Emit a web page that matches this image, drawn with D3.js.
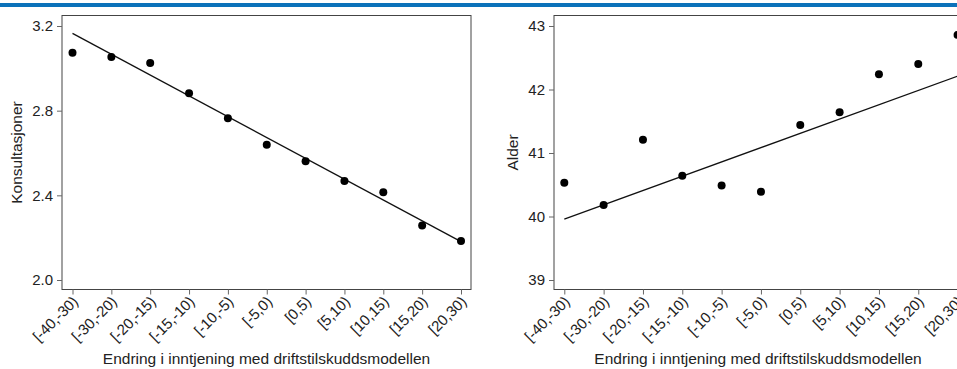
<!DOCTYPE html>
<html lang="no">
<head>
<meta charset="utf-8" />
<style>
body { margin: 0; background: #fff; }
svg { display: block; font-family: "Liberation Sans", Arial, sans-serif; }
.frame { fill: none; stroke: #444; stroke-width: 1; }
.axis path { display: none; }
.axis line { stroke: #666; }
.axis text { fill: #222; font-size: 15px; }
.fit { fill: none; stroke: #111; stroke-width: 1.3; }
.dot { fill: #000; }
.title { fill: #222; font-size: 15.5px; }
</style>
</head>
<body>
<script src="https://cdn.jsdelivr.net/npm/d3@7"></script>
<script>
var categories = ["[-40,-30)", "[-30,-20)", "[-20,-15)", "[-15,-10)", "[-10,-5)", "[-5,0)",
                  "[0,5)", "[5,10)", "[10,15)", "[15,20)", "[20,30)"];

// left panel: konsultasjoner
var konsValues = [3.074, 3.054, 3.025, 2.882, 2.764, 2.639, 2.561, 2.468, 2.414, 2.257, 2.184];
var konsFit = [3.165, 2.181];            // fitted line at first and last category
var konsTicks = [2.0, 2.4, 2.8, 3.2];

// right panel: alder
var alderValues = [40.53, 40.18, 41.21, 40.64, 40.49, 40.39, 41.44, 41.64, 42.24, 42.40, 42.86];
var alderFit = [39.96, 42.21];
var alderTicks = [39, 40, 41, 42, 43];

var width = 957, height = 369;
var xTitle = "Endring i inntjening med driftstilskuddsmodellen";

var svg = d3.select("body").append("svg")
    .attr("width", width)
    .attr("height", height);

svg.append("rect")
    .attr("x", 0).attr("y", 3)
    .attr("width", width).attr("height", 4)
    .attr("fill", "#0b72ba");

function panel(opts) {
    var g = svg.append("g");
    var left = opts.left, right = opts.right, top = 15.5, bottom = 289.5;

    var x = d3.scalePoint()
        .domain(categories)
        .range([left + opts.inset, left + opts.inset + opts.step * (categories.length - 1)]);

    var y = d3.scaleLinear()
        .domain(opts.domain)
        .range([280, 26]);

    g.append("rect")
        .attr("class", "frame")
        .attr("x", left).attr("y", top)
        .attr("width", right - left).attr("height", bottom - top);

    g.append("g")
        .attr("class", "axis")
        .attr("transform", "translate(" + left + ",0)")
        .call(d3.axisLeft(y).tickValues(opts.ticks).tickFormat(opts.fmt).tickSize(5).tickPadding(4));

    var xa = g.append("g")
        .attr("class", "axis")
        .attr("transform", "translate(0," + bottom + ")")
        .call(d3.axisBottom(x).tickSize(5).tickPadding(3));

    xa.selectAll("text")
        .attr("text-anchor", "end")
        .attr("dy", null)
        .attr("y", 0)
        .attr("transform", "translate(6,13) rotate(-45)");

    g.append("line")
        .attr("class", "fit")
        .attr("x1", x(categories[0]))
        .attr("y1", y(opts.fit[0]))
        .attr("x2", x(categories[categories.length - 1]))
        .attr("y2", y(opts.fit[1]));

    g.selectAll(".dot")
        .data(opts.values)
        .enter().append("circle")
        .attr("class", "dot")
        .attr("cx", function (d, i) { return x(categories[i]); })
        .attr("cy", function (d) { return y(d); })
        .attr("r", 4);

    g.append("text")
        .attr("class", "title")
        .attr("text-anchor", "middle")
        .attr("x", opts.titleX)
        .attr("y", 364)
        .text(xTitle);

    g.append("text")
        .attr("class", "title")
        .attr("text-anchor", "middle")
        .attr("transform", "translate(" + opts.yTitleX + "," + ((top + bottom) / 2) + ") rotate(-90)")
        .text(opts.yTitle);
}

panel({
    left: 62, right: 471, inset: 10.5, step: 38.85,
    domain: [2.0, 3.2], ticks: konsTicks, fmt: d3.format(".1f"),
    values: konsValues, fit: konsFit,
    yTitle: "Konsultasjoner", yTitleX: 22, titleX: 266.5
});

panel({
    left: 554, right: 967, inset: 10.3, step: 39.33,
    domain: [39, 43], ticks: alderTicks, fmt: d3.format("d"),
    values: alderValues, fit: alderFit,
    yTitle: "Alder", yTitleX: 518, titleX: 758
});
</script>
</body>
</html>
